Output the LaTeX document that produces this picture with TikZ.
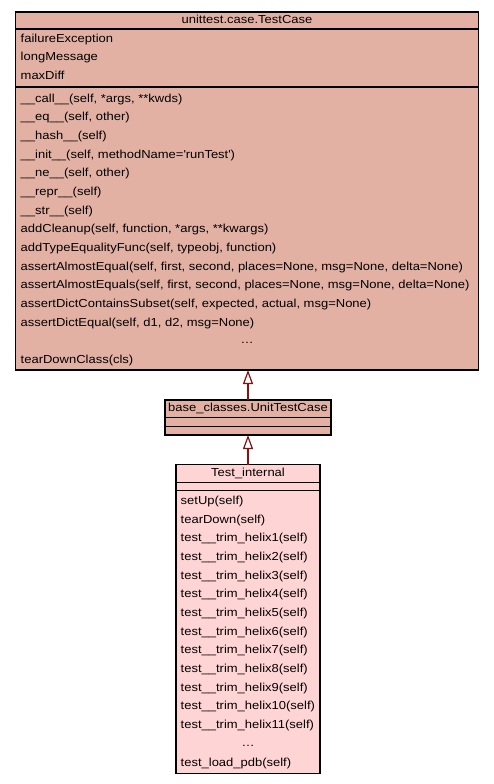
\documentclass[tikz,border=0pt]{standalone}
\usepackage{fontspec}
\setmainfont{Liberation Sans}[FakeStretch=1.12]
\usetikzlibrary{arrows.meta}
\definecolor{topfill}{RGB}{227,177,164}
\definecolor{botfill}{RGB}{255,212,212}
\definecolor{arrcol}{RGB}{139,16,16}
\begin{document}
\begin{tikzpicture}[x=1pt,y=-1pt,
  txt/.style={anchor=base west, inner sep=0pt, font=\fontsize{11.6}{14}\selectfont},
  ttl/.style={anchor=base, inner sep=0pt, font=\fontsize{11.6}{14}\selectfont},
  classbox/.style={draw=black, line width=1.2pt, anchor=north west, inner sep=0pt, outer sep=0pt},
  sep/.style={draw=black, line width=1.2pt},
  inherit/.style={draw=arrcol, line width=2pt, -{Triangle[open, fill=white, length=14pt, width=10pt, line width=1.2pt]}}]
\useasboundingbox (0,0) rectangle (493,784);
% top class
\node[classbox, fill=topfill, minimum width=463pt, minimum height=358pt] (tc) at (15.5,12) {};
\draw[sep] (15.5,29) -- (478.5,29);
\draw[sep] (15.5,87) -- (478.5,87);
\node[ttl] (tct) at (247,23.3) {unittest.case.TestCase};
\node[txt] (a1) at (20.5,42.3) {failureException};
\node[txt] (a2) at (20.5,61) {longMessage};
\node[txt] (a3) at (20.5,79.6) {maxDiff};
\node[txt] (m1) at (20.5,102.3) {\_\_call\_\_(self, *args, **kwds)};
\node[txt] (m2) at (20.5,120.9) {\_\_eq\_\_(self, other)};
\node[txt] (m3) at (20.5,139.6) {\_\_hash\_\_(self)};
\node[txt] (m4) at (20.5,158.2) {\_\_init\_\_(self, methodName=\textquotesingle runTest\textquotesingle)};
\node[txt] (m5) at (20.5,176.9) {\_\_ne\_\_(self, other)};
\node[txt] (m6) at (20.5,195.5) {\_\_repr\_\_(self)};
\node[txt] (m7) at (20.5,214.1) {\_\_str\_\_(self)};
\node[txt] (m8) at (20.5,232.8) {addCleanup(self, function, *args, **kwargs)};
\node[txt] (m9) at (20.5,251.4) {addTypeEqualityFunc(self, typeobj, function)};
\node[txt] (m10) at (20.5,270.1) {assertAlmostEqual(self, first, second, places=None, msg=None, delta=None)};
\node[txt] (m11) at (20.5,288.7) {assertAlmostEquals(self, first, second, places=None, msg=None, delta=None)};
\node[txt] (m12) at (20.5,307.3) {assertDictContainsSubset(self, expected, actual, msg=None)};
\node[txt] (m13) at (20.5,326) {assertDictEqual(self, d1, d2, msg=None)};
\node[ttl] (m14) at (247,343.6) {…};
\node[txt] (m15) at (20.5,363.3) {tearDownClass(cls)};
% middle class
\node[classbox, fill=topfill, minimum width=166pt, minimum height=35pt] (mid) at (165,400) {};
\draw[sep] (165,417.7) -- (331,417.7);
\draw[sep] (165,426.7) -- (331,426.7);
\node[ttl] (midt) at (248,411.7) {base\_classes.UnitTestCase};
% bottom class
\node[classbox, fill=botfill, minimum width=144pt, minimum height=308.8pt] (bot) at (176,464.5) {};
\draw[sep] (176,482.7) -- (320,482.7);
\draw[sep] (176,490.7) -- (320,490.7);
\node[ttl] (bott) at (248,476.7) {Test\_internal};
\node[txt] (b1) at (180.5,504.3) {setUp(self)};
\node[txt] (b2) at (180.5,523) {tearDown(self)};
\node[txt] (b3) at (180.5,541.7) {test\_\_trim\_helix1(self)};
\node[txt] (b4) at (180.5,560.4) {test\_\_trim\_helix2(self)};
\node[txt] (b5) at (180.5,579.1) {test\_\_trim\_helix3(self)};
\node[txt] (b6) at (180.5,597.8) {test\_\_trim\_helix4(self)};
\node[txt] (b7) at (180.5,616.4) {test\_\_trim\_helix5(self)};
\node[txt] (b8) at (180.5,635.1) {test\_\_trim\_helix6(self)};
\node[txt] (b9) at (180.5,653.8) {test\_\_trim\_helix7(self)};
\node[txt] (b10) at (180.5,672.5) {test\_\_trim\_helix8(self)};
\node[txt] (b11) at (180.5,691.2) {test\_\_trim\_helix9(self)};
\node[txt] (b12) at (180.5,709.9) {test\_\_trim\_helix10(self)};
\node[txt] (b13) at (180.5,728.6) {test\_\_trim\_helix11(self)};
\node[ttl] (b14) at (248,746.3) {…};
\node[txt] (b15) at (180.5,766) {test\_load\_pdb(self)};
% inheritance
\draw[inherit] (mid.north) -- (mid.north |- tc.south);
\draw[inherit] (bot.north) -- (bot.north |- mid.south);
\end{tikzpicture}
\end{document}
